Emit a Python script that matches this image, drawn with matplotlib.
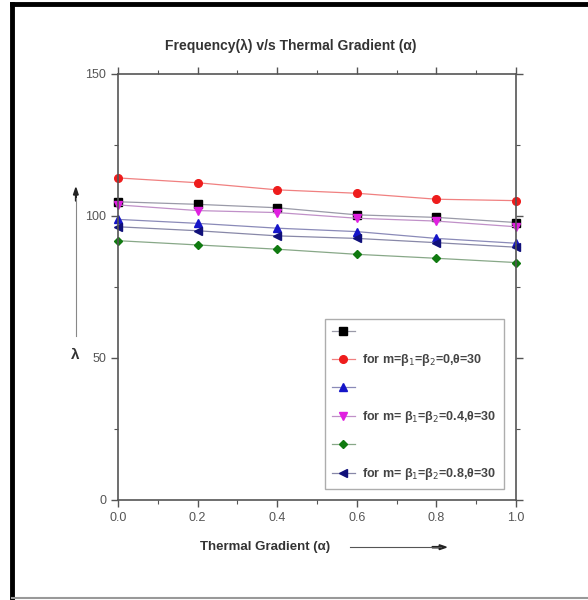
import matplotlib
matplotlib.use("Agg")
import matplotlib.pyplot as plt
from matplotlib.lines import Line2D
from matplotlib.ticker import MultipleLocator

plt.rcParams["font.family"] = ["Liberation Sans", "DejaVu Sans"]

alpha = [0.0, 0.2, 0.4, 0.6, 0.8, 1.0]

# series values
black_sq = [105.0, 104.1, 102.9, 100.4, 99.5, 97.7]
red_circ = [113.4, 111.7, 109.2, 108.0, 105.9, 105.4]
blue_up = [98.8, 97.4, 95.7, 94.5, 92.1, 90.4]
mag_down = [103.9, 101.9, 101.2, 99.2, 98.2, 96.2]
green_dia = [91.3, 89.8, 88.3, 86.5, 85.1, 83.6]
navy_left = [96.2, 94.8, 93.0, 92.1, 90.6, 89.0]

labels = [" ", "for m=\u03b2$_1$=\u03b2$_2$=0,\u03b8=30",
          " ", "for m= \u03b2$_1$=\u03b2$_2$=0.4,\u03b8=30",
          " ", "for m= \u03b2$_1$=\u03b2$_2$=0.8,\u03b8=30"]

series = [
    (black_sq, "#000000", "s", "#9a9aa8"),
    (red_circ, "#ee1c1c", "o", "#f08080"),
    (blue_up, "#1515c8", "^", "#8a8ab8"),
    (mag_down, "#e020e0", "v", "#c090c8"),
    (green_dia, "#107a10", "D", "#88a888"),
    (navy_left, "#10107a", "<", "#8888a8"),
]

fig = plt.figure(figsize=(5.88, 6.0), dpi=100)
ax = fig.add_axes([0.2007, 0.1667, 0.677, 0.71])

handles = []
for (vals, col, mk, lc), lab in zip(series, labels):
    ms = 5.5 if mk in ("o", "s") else 6
    if mk == "D":
        ms = 4.5
    h, = ax.plot(alpha, vals, color=lc, lw=0.9, marker=mk, ms=ms,
                 mfc=col, mec=col, clip_on=False)
    handles.append(h)

ax.set_xlim(0, 1.0)
ax.set_ylim(0, 150)
ax.xaxis.set_major_locator(MultipleLocator(0.2))
ax.xaxis.set_minor_locator(MultipleLocator(0.1))
ax.yaxis.set_major_locator(MultipleLocator(50))
ax.yaxis.set_minor_locator(MultipleLocator(25))
ax.xaxis.set_major_formatter(matplotlib.ticker.FormatStrFormatter("%.1f"))

ax.tick_params(axis="both", which="both", top=True, right=True,
               labelsize=9, labelcolor="#555555", color="#555555")
ax.tick_params(axis="both", which="major", length=5, width=1)
ax.tick_params(axis="both", which="minor", length=3, width=0.8)
for sp in ax.spines.values():
    sp.set_color("#555555")
    sp.set_linewidth(1.2)

leg = ax.legend(handles, labels, loc="lower right", fontsize=9, frameon=True,
                fancybox=False, edgecolor="#999999", handlelength=1.8,
                labelspacing=1.15, borderpad=0.6, handletextpad=0.6,
                bbox_to_anchor=(0.985, 0.01))
for t in leg.get_texts():
    t.set_color("#444444")
    t.set_fontweight("bold")

fig.text(0.495, 0.923, "Frequency(\u03bb) v/s Thermal Gradient (\u03b1)",
         ha="center", va="center", fontsize=10, fontweight="bold", color="#333333")
fig.text(0.45, 0.088, "Thermal Gradient (\u03b1)", ha="center", va="center",
         fontsize=9.5, fontweight="bold", color="#333333")
fig.add_artist(Line2D([0.595, 0.75], [0.088, 0.088], color="#555555", lw=0.8))
fig.patches.append(matplotlib.patches.FancyArrow(
    0.735, 0.088, 0.012, 0, width=0.002, head_width=0.008, head_length=0.012,
    color="#222222", transform=fig.transFigure, figure=fig))

fig.text(0.128, 0.408, "\u03bb", ha="center", va="center", fontsize=11,
         fontweight="bold", color="#333333")
fig.add_artist(Line2D([0.129, 0.129], [0.44, 0.67], color="#888888", lw=0.8))
fig.patches.append(matplotlib.patches.FancyArrow(
    0.129, 0.665, 0, 0.01, width=0.001, head_width=0.008, head_length=0.012,
    color="#222222", transform=fig.transFigure, figure=fig))

# black frame around the figure (left, top, bottom)
fig.add_artist(Line2D([0.02, 0.02], [0.003, 0.993], color="black", lw=3.5))
fig.add_artist(Line2D([0.02, 1.0], [0.993, 0.993], color="black", lw=3.5))
fig.add_artist(Line2D([0.02, 1.0], [0.004, 0.004], color="#999999", lw=1.5))

fig.savefig("out.png", dpi=100)
